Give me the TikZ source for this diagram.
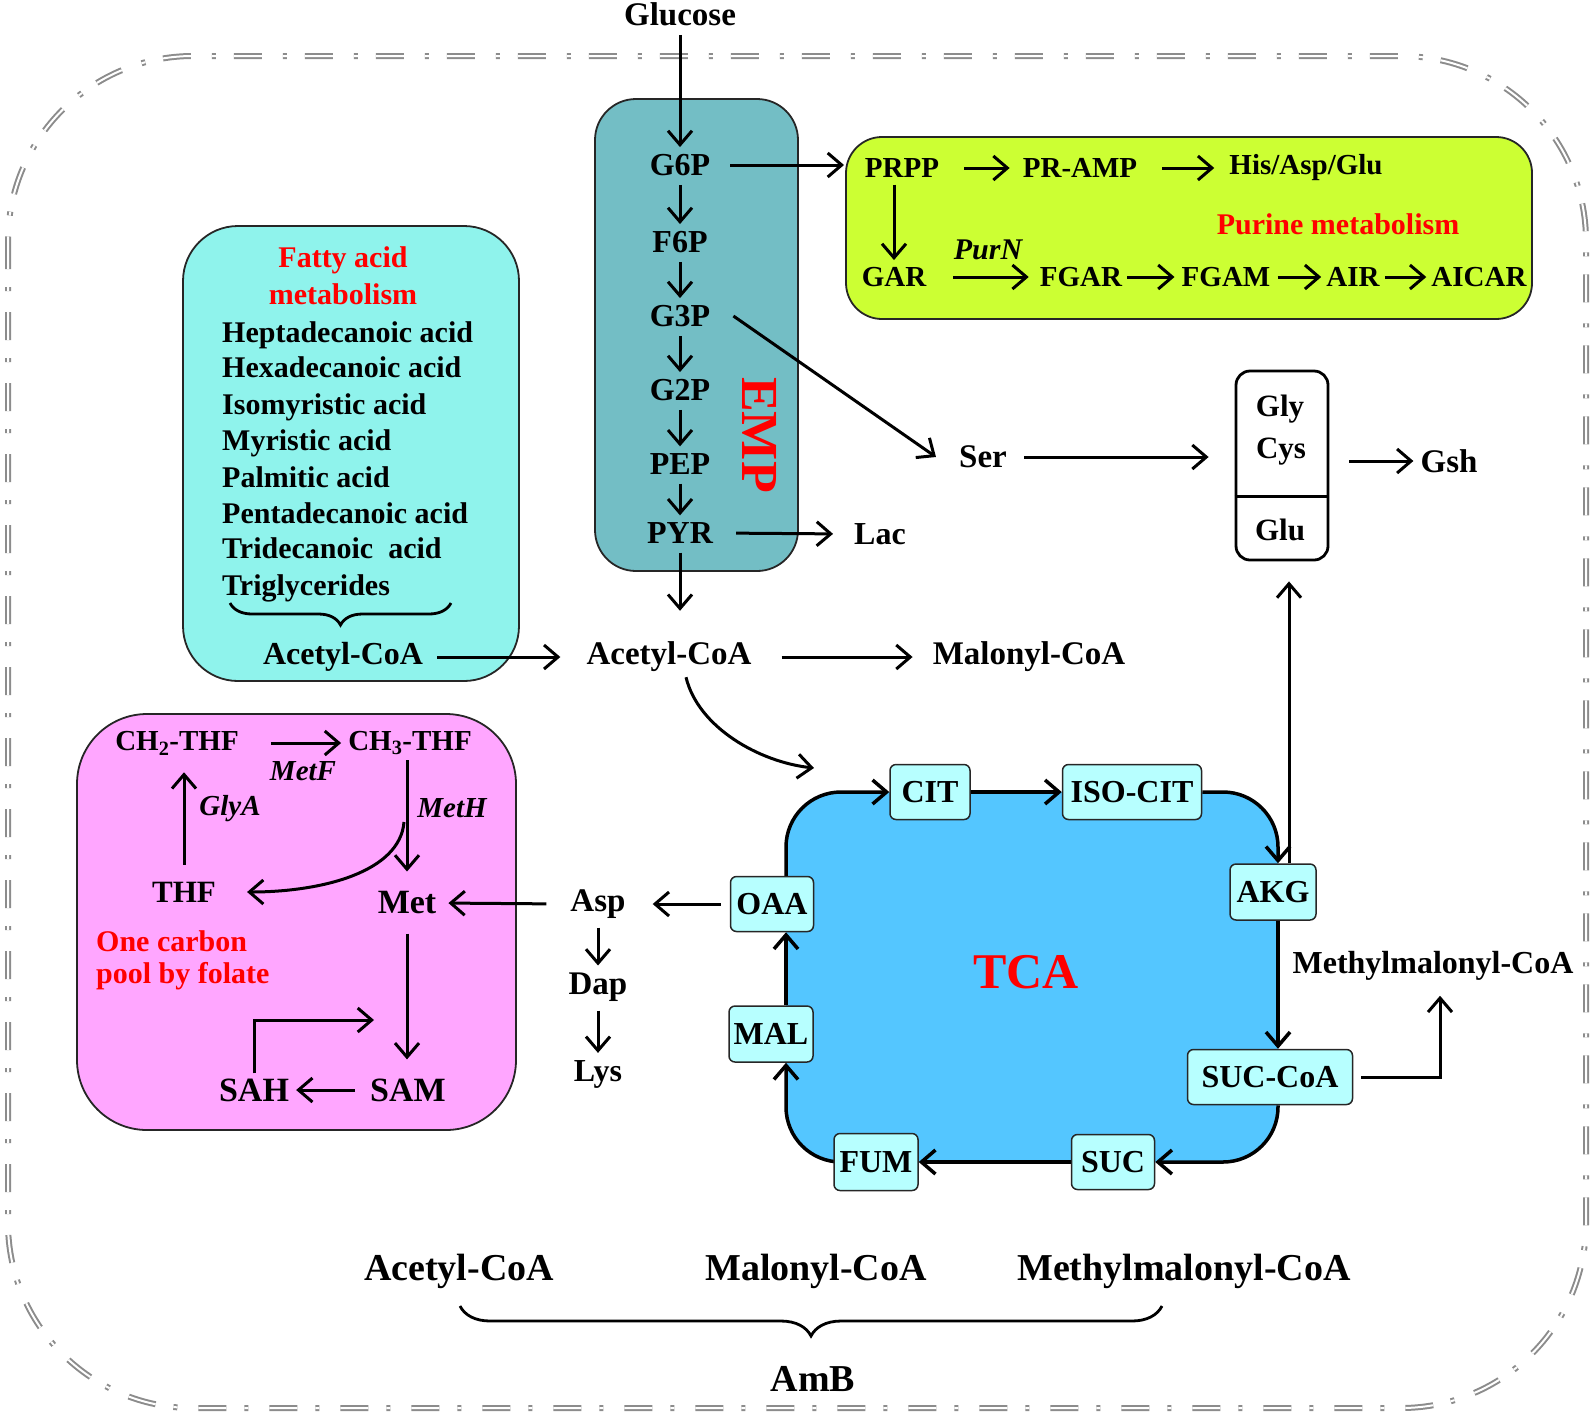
\documentclass[tikz,border=0pt]{standalone}
\usepackage{fontspec}
\setmainfont{Liberation Serif}
\usetikzlibrary{arrows.meta,decorations.pathreplacing,calc}
\pgfdeclarelayer{background}
\pgfdeclarelayer{mid}
\pgfsetlayers{background,mid,main}
\definecolor{empc}{RGB}{115,190,197}
\definecolor{fatc}{RGB}{143,243,236}
\definecolor{purc}{RGB}{204,255,51}
\definecolor{pinkc}{RGB}{255,166,255}
\definecolor{tcac}{RGB}{84,198,255}
\definecolor{sboxc}{RGB}{183,255,255}
\definecolor{dashc}{RGB}{140,140,140}
\newcommand\myfs[1]{\fontsize{#1}{#1}\selectfont\bfseries}
\begin{document}
\begin{tikzpicture}[x=1pt,y=-1pt,
  lbl/.style={inner sep=5pt, font=\myfs{32}},
  redlbl/.style={inner sep=0pt, text=red, font=\myfs{30}},
  itl/.style={inner sep=0pt, font=\myfs{30}\itshape},
  arr/.style={line width=3pt, -{Straight Barb[length=14pt,width=24pt]}, shorten <=4pt, shorten >=2pt},
  cyc/.style={line width=3.5pt, -{Straight Barb[length=14pt,width=24pt]}, rounded corners=55pt},
  bigbox/.style={draw=black!85, line width=1.8pt, rounded corners=#1, outer sep=0pt, inner sep=0pt},
  sbox/.style={draw=black!85, line width=1.5pt, fill=sboxc, rounded corners=6pt, minimum height=55pt, inner sep=3pt, font=\myfs{32}},
  brc/.style={line width=2.8pt, decorate, decoration={brace, mirror, amplitude=#1}}
]
\useasboundingbox (0,0) rectangle (1594,1417);

\begin{pgfonlayer}{background}
\draw[dashc, double, line width=2pt, double distance=2pt, dash pattern=on 28pt off 18pt on 4pt off 21pt, rounded corners=185pt] (8,56) rectangle (1586,1408);
\node[bigbox=41, fill=empc, minimum width=203pt, minimum height=472pt] (emp) at (696.5,335) {};
\node[bigbox=55, fill=fatc, minimum width=336pt, minimum height=455pt] (fat) at (351,453.5) {};
\node[bigbox=36, fill=purc, minimum width=686pt, minimum height=182pt] (pur) at (1189,228) {};
\node[bigbox=70, fill=pinkc, minimum width=439pt, minimum height=416pt] (pink) at (296.5,922) {};
\node[fill=tcac, rounded corners=55pt, minimum width=492pt, minimum height=370pt, outer sep=0pt, inner sep=0pt] (tca) at (1032,977) {};
\node[draw=black, line width=2.8pt, fill=white, rounded corners=14pt, minimum width=92pt, minimum height=189pt] (gcg) at (1282,465.5) {};
\end{pgfonlayer}

% EMP
\node[lbl, font=\myfs{33}] (glc) at (680,14) {Glucose};
\node[lbl] (g6p) at (680,165) {G6P};
\node[lbl] (f6p) at (680,242) {F6P};
\node[lbl] (g3p) at (680,316) {G3P};
\node[lbl] (g2p) at (680,390) {G2P};
\node[lbl] (pep) at (680,464) {PEP};
\node[lbl] (pyr) at (680,533) {PYR};
\node[inner sep=0pt, text=red, font=\myfs{52}, rotate=-90] (emplbl) at (760,435) {EMP};
\draw[arr] (glc) -- (g6p);
\draw[arr] (g6p) -- (f6p);
\draw[arr] (f6p) -- (g3p);
\draw[arr] (g3p) -- (g2p);
\draw[arr] (g2p) -- (pep);
\draw[arr] (pep) -- (pyr);

% fatty acids
\node[redlbl] (fat1) at (343,260) {Fatty acid};
\node[redlbl] (fat2) at (343,294) {metabolism};
\node[inner sep=0pt, font=\myfs{30}, anchor=base west] (fa1) at (222,342) {Heptadecanoic acid};
\node[inner sep=0pt, font=\myfs{30}, anchor=base west] (fa2) at (222,377) {Hexadecanoic acid};
\node[inner sep=0pt, font=\myfs{30}, anchor=base west] (fa3) at (222,414) {Isomyristic acid};
\node[inner sep=0pt, font=\myfs{30}, anchor=base west] (fa4) at (222,450) {Myristic acid};
\node[inner sep=0pt, font=\myfs{30}, anchor=base west] (fa5) at (222,487) {Palmitic acid};
\node[inner sep=0pt, font=\myfs{30}, anchor=base west] (fa6) at (222,523) {Pentadecanoic acid};
\node[inner sep=0pt, font=\myfs{30}, anchor=base west] (fa7) at (222,558) {Tridecanoic\ \ acid};
\node[inner sep=0pt, font=\myfs{30}, anchor=base west] (fa8) at (222,595) {Triglycerides};
\coordinate (fb1) at (230,603);
\coordinate (fb2) at (451,603);
\draw[brc=22pt] (fb1) -- (fb2);
\node[lbl] (facc) at (343,657) {Acetyl-CoA};

% central
\node[lbl, font=\myfs{33}] (acc) at (669,657) {Acetyl-CoA};
\node[lbl, font=\myfs{33}] (mal) at (1029,657) {Malonyl-CoA};
\draw[arr, shorten <=9pt, shorten >=21pt] (facc.east) -- (acc.west);
\draw[arr, shorten <=25pt, shorten >=15pt] (acc.east) -- (mal.west);
\draw[arr, shorten <=4pt, shorten >=26pt] (pyr.south) -- (pyr.south |- acc.north);

% purine
\node[lbl, font=\myfs{29}] (prpp) at (902,168) {PRPP};
\node[lbl, font=\myfs{29}] (pramp) at (1080,168) {PR-AMP};
\node[lbl, font=\myfs{29}] (hag) at (1306,168) {His/Asp/Glu};
\node[redlbl] (purlbl) at (1338,224) {Purine metabolism};
\node[lbl, font=\myfs{29}] (gar) at (894,277) {GAR};
\node[lbl, font=\myfs{29}] (fgar) at (1081,277) {FGAR};
\node[lbl, font=\myfs{29}] (fgam) at (1226,277) {FGAM};
\node[lbl, font=\myfs{29}] (air) at (1353,277) {AIR};
\node[lbl, font=\myfs{29}] (aicar) at (1479,277) {AICAR};
\node[itl] (purn) at (988,250) {PurN};
\draw[arr, shorten <=15pt] (g6p.east) -- (g6p.east -| pur.west);
\draw[arr, shorten <=20pt, shorten >=8pt] (prpp.east) -- (pramp.west);
\draw[arr, shorten <=20pt, shorten >=10pt] (pramp.east) -- (hag.west);
\draw[arr, shorten <=2pt] (gar.north |- prpp.south) -- (gar.north);
\draw[arr, shorten <=22pt, shorten >=6pt] (gar.east) -- (fgar.west);
\draw[arr, shorten <=0pt, shorten >=2pt] (fgar.east) -- (fgam.west);
\draw[arr, shorten <=2pt, shorten >=0pt] (fgam.east) -- (air.west);
\draw[arr, shorten <=0pt, shorten >=0pt] (air.east) -- (aicar.west);

% Ser, Lac, Gsh
\node[lbl, font=\myfs{33}] (ser) at (983,457) {Ser};
\node[lbl] (lac) at (880,534) {Lac};
\node[lbl, font=\myfs{33}] (gsh) at (1449,461) {Gsh};
\node[inner sep=0pt, font=\myfs{31}] (gly) at (1280,409) {Gly};
\node[inner sep=0pt, font=\myfs{31}] (cys) at (1281,452) {Cys};
\node[inner sep=0pt, font=\myfs{31}] (glu) at (1280,530) {Glu};
\draw[line width=2.8pt] ([yshift=65pt]gcg.south west) -- ([yshift=65pt]gcg.south east);
\draw[arr, shorten <=0pt, shorten >=0pt] ([xshift=18pt]g3p.east) -- ([xshift=-18pt]ser.west);
\draw[arr, shorten <=12pt, shorten >=26pt] (ser.east) -- (ser.east -| gcg.west);
\draw[arr, shorten <=20pt, shorten >=2pt] (gcg.east |- gsh.west) -- (gsh.west);
\draw[arr, shorten <=18pt, shorten >=16pt] (pyr.east) -- (lac.west);

% one carbon pool
\node[lbl, font=\myfs{29}] (ch2) at (177,743) {CH\textsubscript{2}-THF};
\node[lbl, font=\myfs{29}] (ch3) at (410,743) {CH\textsubscript{3}-THF};
\node[itl, font=\myfs{29}\itshape] (metf) at (303,771) {MetF};
\node[lbl, font=\myfs{34}] (met) at (407,903) {Met};
\node[itl, font=\myfs{29}\itshape] (meth) at (452,808) {MetH};
\node[lbl, font=\myfs{31}] (thf) at (184,892) {THF};
\node[itl, font=\myfs{29}\itshape] (glya) at (230,809) {GlyA};
\node[redlbl, anchor=west] (oc1) at (96,941) {One carbon};
\node[redlbl, anchor=west] (oc2) at (96,976) {pool by folate};
\node[lbl, font=\myfs{34}] (sam) at (408,1090) {SAM};
\node[lbl, font=\myfs{34}] (sah) at (254,1090) {SAH};
\node[lbl, font=\myfs{33}] (asp) at (598,904) {Asp};
\node[lbl, font=\myfs{33}] (dap) at (598,987) {Dap};
\node[lbl, font=\myfs{32}] (lys) at (598,1074) {Lys};
\coordinate (brch) at (404,822);
\coordinate (samin) at (374,1020);
\draw[arr, shorten <=27pt, shorten >=2pt] (ch2.east) -- (ch3.west);
\draw[arr, shorten <=0pt, shorten >=15pt] (ch3.south -| met.north) -- (met.north);
\draw[arr, shorten <=0pt, shorten >=0pt] (brch) .. controls +(-4,50) and +(75,0) .. ([xshift=26pt]thf.east);
\draw[arr, shorten <=12pt, shorten >=12pt] (thf.north) -- (thf.north |- ch2.south);
\draw[arr, shorten <=19pt, shorten >=7pt] (asp.west) -- (met.east);
\draw[arr] (asp.south) -- (dap.north);
\draw[arr] (dap.south) -- (lys.north);
\draw[arr, shorten <=14pt, shorten >=14pt] (met.south) -- (met.south |- sam.north);
\draw[arr, shorten <=10pt, shorten >=2pt] (sam.west) -- (sah.east);
\draw[arr, shorten <=0pt, shorten >=0pt] (sah.north) |- (samin);

% TCA
\node[sbox, minimum width=80pt] (cit) at (930,792) {CIT};
\node[sbox, minimum width=139pt] (iso) at (1132,792) {ISO-CIT};
\node[sbox, minimum width=86pt, minimum height=56pt] (akg) at (1273,892) {AKG};
\node[sbox, minimum width=165pt] (succoa) at (1270,1077) {SUC-CoA};
\node[sbox, minimum width=83pt] (suc) at (1113,1162) {SUC};
\node[sbox, minimum width=84pt, minimum height=57pt] (fum) at (876,1162) {FUM};
\node[sbox, minimum width=84pt, minimum height=56pt] (mal2) at (771,1034) {MAL};
\node[sbox, minimum width=83pt] (oaa) at (772,904) {OAA};
\node[inner sep=0pt, text=red, font=\myfs{50}] (tcalbl) at (1026,972) {TCA};
\node[lbl] (mmc) at (1433,966) {Methylmalonyl-CoA};

\begin{pgfonlayer}{mid}
\draw[cyc] (tca.west |- oaa.north) |- (cit.west);
\draw[cyc] (cit.east) -- (iso.west);
\draw[cyc] (iso.east) -| (tca.east |- akg.north);
\draw[cyc] (tca.east |- akg.south) -- (tca.east |- succoa.north);
\draw[cyc] (tca.east |- succoa.south) |- (suc.east);
\draw[cyc] (suc.west) -- (fum.east);
\draw[cyc] (fum.center) -| (tca.west |- mal2.south);
\draw[cyc] (tca.west |- mal2.north) -- (tca.west |- oaa.south);
\end{pgfonlayer}

\coordinate (accin) at (814,768);
\draw[arr, shorten <=0pt, shorten >=0pt] ([xshift=17pt]acc.south) .. controls +(12,50) and +(-55,-6) .. (accin);
\draw[arr, shorten <=9pt, shorten >=22pt] (oaa.west) -- (asp.east);
\draw[arr, shorten <=8pt, shorten >=10pt] (succoa.east) -| ([xshift=7pt]mmc.south);
\draw[arr, shorten <=0pt, shorten >=20pt] ([xshift=16pt]akg.north) -- ([xshift=16pt]akg.north |- gcg.south);

% bottom
\node[lbl, font=\myfs{38}] (bacc) at (459,1271) {Acetyl-CoA};
\node[lbl, font=\myfs{38}] (bmal) at (816,1271) {Malonyl-CoA};
\node[lbl, font=\myfs{38}] (bmmc) at (1184,1271) {Methylmalonyl-CoA};
\node[lbl, font=\myfs{38}] (amb) at (813,1379) {AmB};
\coordinate (bb1) at (460,1306);
\coordinate (bb2) at (1162,1306);
\draw[brc=30pt] (bb1) -- (bb2);
\end{tikzpicture}
\end{document}
